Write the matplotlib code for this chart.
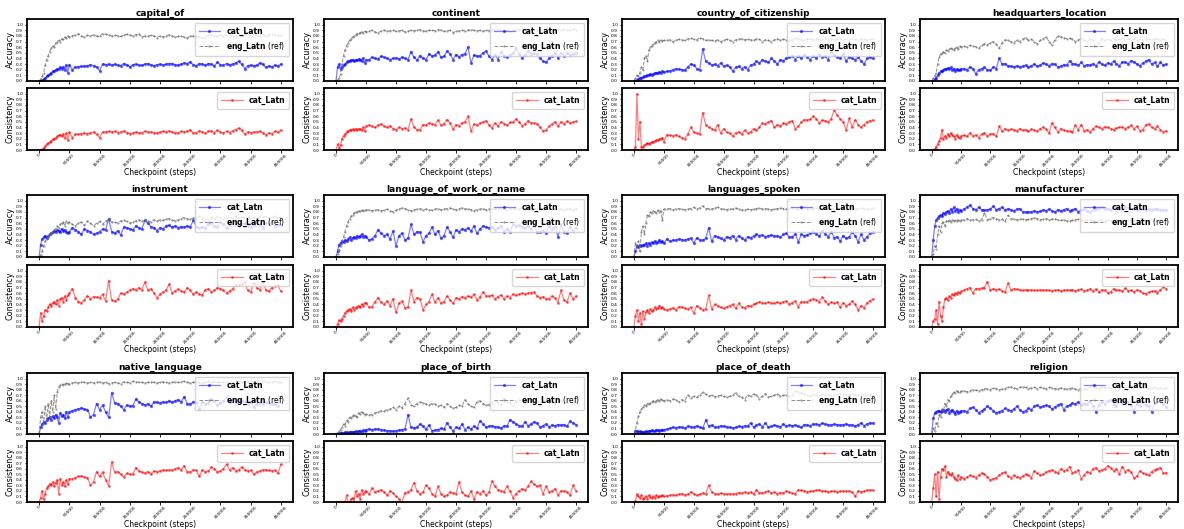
import numpy as np
import matplotlib
matplotlib.use("Agg")
import matplotlib.pyplot as plt

# checkpoint steps (dense early, then every 5000)
steps = [0, 2500, 5000, 7500, 10000, 12500, 15000, 17500, 20000, 22500, 25000,
         27500, 30000, 32500, 35000, 37500, 40000, 42500, 45000, 47500, 50000,
         55000, 60000, 65000, 70000, 75000, 80000, 85000,
         90000, 95000, 100000, 105000, 110000, 115000, 120000,
         125000, 130000, 135000, 140000, 145000, 150000, 155000,
         160000, 165000, 170000, 175000, 180000, 185000, 190000,
         195000, 200000, 205000, 210000, 215000, 220000, 225000,
         230000, 235000, 240000, 245000, 250000, 255000, 260000,
         265000, 270000, 275000, 280000, 285000, 290000, 295000,
         300000, 305000, 310000, 315000, 320000, 325000, 330000,
         335000, 340000, 345000, 350000, 355000, 360000, 365000,
         370000, 375000, 380000, 385000, 390000, 395000, 400000]

relations = ["capital_of", "continent", "country_of_citizenship", "headquarters_location",
             "instrument", "language_of_work_or_name", "languages_spoken", "manufacturer",
             "native_language", "place_of_birth", "place_of_death", "religion"]

# values in percent
capital_of_cat = [0, 0, 1, 3, 5, 8, 10, 12, 14, 17, 18, 20, 21, 22, 24, 22, 25, 20, 28, 15, 29,
                  20, 25, 25, 26, 26, 27, 29, 27, 25, 18, 30, 29, 30, 28, 30, 28, 27, 31, 29, 25, 29,
                  30, 28, 28, 30, 31, 29, 27, 29, 30, 28, 30, 31, 31, 29, 28, 30, 32, 31, 34, 29, 27,
                  31, 30, 28, 31, 30, 27, 33, 29, 28, 31, 29, 30, 32, 35, 30, 22, 27, 28, 27, 28, 32,
                  30, 24, 27, 25, 28, 26, 30]
capital_of_eng = [0, 3, 8, 15, 28, 38, 45, 52, 58, 62, 60, 68, 70, 72, 70, 75, 74, 78, 76, 80, 78,
                  80, 82, 84, 80, 78, 81, 80, 82, 80, 79, 84, 83, 82, 80, 81, 80, 79, 82, 83, 82, 80,
                  82, 84, 78, 80, 79, 81, 80, 77, 80, 78, 80, 82, 80, 78, 79, 80, 78, 76, 80, 79, 80,
                  78, 76, 77, 82, 81, 80, 79, 82, 80, 81, 83, 80, 79, 82, 80, 81, 83, 80, 82, 81, 80,
                  82, 80, 81, 83, 82, 80, 81]
capital_of_cons = [0, 0, 1, 3, 7, 10, 12, 14, 16, 19, 20, 22, 24, 26, 27, 25, 28, 22, 30, 18, 32,
                   22, 28, 28, 29, 30, 29, 30, 32, 28, 22, 32, 32, 33, 32, 33, 31, 32, 34, 31, 29, 30,
                   32, 30, 31, 33, 32, 32, 31, 30, 32, 33, 32, 34, 32, 31, 30, 33, 32, 33, 36, 30, 31,
                   34, 32, 30, 33, 34, 31, 35, 32, 30, 33, 31, 34, 36, 39, 35, 28, 32, 31, 32, 32, 33,
                   31, 27, 30, 29, 33, 32, 35]

continent_cat = [0, 25, 30, 22, 25, 28, 30, 33, 35, 36, 37, 38, 36, 38, 37, 39, 38, 36, 40, 32, 37,
                 38, 42, 40, 39, 44, 42, 40, 38, 40, 41, 39, 42, 40, 38, 52, 42, 37, 45, 40, 38, 48,
                 44, 46, 52, 42, 44, 53, 48, 38, 47, 43, 47, 48, 60, 32, 46, 44, 45, 50, 53, 44, 38,
                 47, 38, 52, 45, 42, 47, 49, 58, 48, 41, 46, 53, 48, 49, 48, 40, 35, 33, 40, 45, 50,
                 41, 49, 45, 50, 47, 48, 49]
continent_eng = [0, 2, 5, 12, 30, 45, 55, 62, 68, 72, 75, 78, 80, 82, 84, 85, 86, 87, 86, 88, 87,
                 88, 90, 87, 85, 89, 90, 88, 89, 90, 88, 89, 90, 87, 88, 90, 89, 90, 91, 89, 88, 90,
                 90, 89, 91, 90, 88, 89, 90, 86, 88, 89, 90, 89, 90, 91, 90, 89, 90, 88, 90, 89, 91,
                 90, 91, 90, 89, 90, 88, 90, 90, 91, 92, 90, 89, 91, 90, 90, 91, 90, 92, 91, 90, 91,
                 91, 90, 92, 91, 90, 92, 91]
continent_cons = [0, 10, 3, 8, 20, 25, 28, 32, 34, 35, 36, 37, 35, 38, 36, 38, 37, 35, 40, 33, 42,
                  44, 42, 40, 44, 46, 42, 40, 43, 38, 36, 40, 38, 39, 36, 55, 40, 36, 36, 45, 44, 48,
                  46, 45, 53, 44, 47, 54, 48, 37, 45, 43, 48, 50, 60, 34, 46, 44, 48, 50, 52, 44, 39,
                  48, 42, 50, 47, 44, 49, 49, 55, 50, 43, 46, 52, 48, 48, 47, 40, 34, 35, 42, 46, 50,
                  42, 50, 46, 51, 48, 50, 51]

citizenship_cat = [0, 0, 2, 3, 5, 6, 7, 8, 9, 10, 10, 12, 11, 13, 14, 15, 14, 16, 15, 17, 16,
                   17, 18, 20, 22, 21, 20, 19, 25, 30, 28, 22, 20, 57, 35, 32, 28, 30, 27, 32, 26, 28,
                   25, 18, 24, 26, 22, 25, 20, 28, 30, 35, 32, 38, 35, 33, 40, 35, 30, 38, 36, 40, 42,
                   45, 38, 44, 40, 46, 42, 38, 45, 40, 47, 42, 44, 38, 52, 46, 43, 40, 48, 35, 43, 40,
                   38, 42, 36, 30, 40, 42, 40]
citizenship_eng = [0, 5, 10, 8, 15, 25, 20, 40, 45, 35, 55, 60, 62, 65, 68, 70, 72, 70, 73, 71, 72,
                   72, 73, 70, 72, 74, 73, 72, 75, 76, 74, 73, 77, 75, 72, 73, 72, 71, 73, 70, 72, 74,
                   72, 70, 73, 74, 75, 73, 74, 73, 72, 75, 74, 70, 73, 72, 70, 73, 75, 72, 74, 73, 71,
                   72, 76, 75, 73, 72, 74, 75, 73, 75, 74, 73, 76, 72, 74, 73, 74, 75, 72, 74, 73, 75,
                   74, 73, 75, 74, 73, 74, 75]
citizenship_cons = [0, 5, 100, 20, 50, 5, 6, 8, 10, 12, 11, 13, 14, 15, 16, 18, 17, 19, 20, 22, 15,
                    27, 26, 25, 27, 24, 22, 20, 28, 40, 32, 30, 28, 66, 45, 40, 38, 35, 45, 30, 38, 32,
                    30, 25, 30, 32, 28, 35, 30, 32, 38, 35, 40, 48, 46, 50, 52, 40, 45, 42, 48, 46, 50,
                    52, 38, 42, 50, 54, 53, 55, 60, 55, 48, 53, 52, 50, 55, 71, 62, 55, 50, 35, 56, 40,
                    54, 45, 40, 45, 50, 52, 53]

headquarters_cat = [0, 0, 3, 6, 10, 14, 17, 18, 20, 22, 21, 23, 22, 24, 20, 22, 18, 21, 19, 20, 22,
                    22, 20, 25, 22, 13, 20, 22, 24, 20, 19, 25, 22, 40, 30, 31, 27, 26, 25, 27, 25, 26,
                    28, 24, 27, 30, 26, 28, 32, 30, 27, 31, 30, 25, 26, 29, 28, 36, 31, 30, 28, 33, 27,
                    29, 28, 31, 27, 34, 30, 28, 32, 30, 35, 31, 27, 34, 33, 31, 36, 34, 30, 27, 32, 35,
                    38, 30, 33, 26, 33, 28, 30]
headquarters_eng = [0, 5, 8, 15, 30, 42, 48, 50, 52, 50, 55, 54, 56, 58, 57, 55, 58, 60, 56, 62, 60,
                    62, 60, 63, 62, 61, 58, 63, 66, 64, 68, 70, 65, 58, 68, 73, 72, 70, 68, 72, 70, 74,
                    77, 72, 74, 70, 66, 72, 75, 78, 70, 64, 72, 80, 78, 77, 75, 76, 74, 70, 73, 76, 72,
                    70, 74, 73, 62, 68, 75, 72, 74, 72, 75, 73, 74, 76, 72, 74, 73, 75, 72, 74, 73, 75,
                    74, 73, 75, 74, 72, 74, 73]
headquarters_cons = [0, 0, 2, 6, 10, 16, 22, 36, 20, 25, 22, 28, 24, 30, 26, 24, 20, 27, 23, 21, 25,
                     26, 24, 30, 25, 27, 22, 28, 30, 25, 28, 29, 24, 42, 33, 38, 35, 37, 36, 34, 38, 35,
                     36, 33, 37, 35, 34, 38, 40, 37, 30, 48, 40, 32, 38, 35, 34, 33, 32, 44, 36, 45, 34,
                     36, 32, 38, 42, 40, 38, 41, 40, 38, 36, 39, 40, 41, 38, 40, 44, 38, 42, 34, 36, 45,
                     46, 40, 38, 42, 36, 32, 34]

instrument_cat = [0, 22, 32, 35, 38, 34, 37, 40, 42, 44, 46, 45, 48, 47, 45, 50, 46, 48, 44, 42, 45,
                  52, 48, 45, 40, 50, 47, 45, 40, 42, 45, 50, 48, 68, 45, 42, 47, 39, 53, 52, 50, 48,
                  55, 52, 50, 65, 60, 54, 52, 47, 52, 50, 55, 56, 53, 55, 52, 54, 53, 55, 53, 65, 54,
                  52, 53, 52, 58, 60, 55, 54, 62, 58, 52, 56, 62, 57, 55, 58, 60, 55, 53, 57, 62, 56,
                  52, 60, 58, 62, 55, 57, 56]
instrument_eng = [0, 3, 10, 20, 28, 32, 35, 40, 42, 45, 48, 50, 55, 52, 58, 60, 62, 55, 63, 60, 62,
                  58, 55, 60, 62, 56, 64, 60, 55, 60, 63, 58, 64, 66, 62, 62, 60, 64, 65, 63, 60, 62,
                  64, 66, 63, 65, 64, 62, 66, 64, 66, 65, 67, 68, 66, 64, 66, 68, 70, 68, 67, 69, 70,
                  72, 68, 65, 67, 70, 68, 72, 70, 68, 71, 69, 70, 72, 70, 71, 70, 72, 69, 71, 70, 72,
                  71, 72, 70, 71, 72, 70, 71]
instrument_cons = [0, 25, 10, 20, 30, 28, 35, 40, 38, 42, 45, 40, 48, 38, 50, 52, 45, 55, 48, 56, 60,
                   68, 52, 45, 43, 48, 55, 50, 54, 53, 52, 58, 46, 82, 48, 46, 49, 60, 58, 62, 65, 68,
                   66, 70, 66, 80, 65, 68, 60, 52, 58, 62, 65, 76, 60, 64, 67, 64, 62, 70, 65, 58, 62,
                   58, 57, 66, 68, 62, 65, 70, 68, 65, 60, 64, 68, 75, 74, 76, 80, 65, 62, 78, 70, 66,
                   80, 66, 63, 70, 73, 74, 63]

work_name_cat = [0, 10, 22, 25, 28, 26, 30, 28, 32, 35, 30, 33, 36, 34, 38, 35, 37, 40, 36, 38, 36,
                 30, 32, 38, 48, 42, 38, 40, 32, 46, 20, 38, 42, 30, 33, 58, 40, 45, 44, 27, 38, 42,
                 53, 40, 47, 33, 38, 53, 45, 35, 48, 45, 50, 48, 52, 46, 55, 42, 50, 55, 53, 52, 53,
                 48, 52, 55, 45, 50, 45, 58, 55, 56, 53, 52, 55, 50, 56, 45, 44, 46, 42, 55, 50, 54,
                 36, 58, 45, 42, 53, 47, 52]
work_name_eng = [0, 5, 12, 20, 28, 35, 45, 55, 62, 68, 72, 75, 78, 80, 79, 82, 81, 83, 82, 84, 83,
                 84, 82, 83, 84, 82, 83, 85, 82, 80, 83, 85, 87, 86, 84, 82, 84, 85, 86, 84, 85, 84,
                 83, 85, 86, 84, 85, 86, 87, 85, 84, 86, 87, 85, 86, 84, 82, 84, 85, 86, 84, 85, 86,
                 85, 87, 86, 85, 84, 86, 85, 86, 85, 87, 86, 85, 84, 86, 85, 86, 84, 85, 86, 85, 84,
                 86, 85, 84, 86, 85, 84, 85]
work_name_cons = [0, 5, 12, 10, 15, 20, 25, 28, 30, 32, 28, 35, 30, 34, 36, 38, 35, 40, 38, 42, 43,
                  35, 36, 45, 52, 44, 40, 46, 38, 50, 26, 42, 46, 34, 35, 65, 45, 52, 50, 30, 40, 45,
                  58, 44, 52, 42, 45, 55, 48, 42, 52, 50, 54, 52, 55, 53, 58, 48, 54, 62, 55, 55, 56,
                  50, 54, 57, 50, 55, 52, 58, 56, 58, 60, 58, 60, 61, 62, 55, 52, 54, 50, 50, 55, 52,
                  43, 65, 48, 44, 60, 50, 55]

spoken_cat = [0, 10, 20, 18, 22, 20, 21, 22, 24, 20, 25, 22, 26, 24, 28, 25, 27, 30, 26, 28, 24,
              32, 28, 30, 30, 32, 31, 30, 32, 33, 25, 34, 30, 30, 33, 52, 28, 38, 35, 33, 30, 36,
              34, 38, 31, 38, 33, 30, 36, 34, 37, 40, 38, 39, 36, 38, 39, 37, 38, 35, 40, 42, 35,
              36, 41, 27, 40, 38, 39, 42, 44, 41, 37, 46, 41, 36, 45, 34, 36, 28, 38, 33, 35, 44,
              38, 27, 40, 30, 36, 42, 45]
spoken_eng = [0, 25, 20, 28, 10, 45, 55, 40, 60, 75, 72, 80, 78, 82, 80, 78, 83, 80, 82, 65, 85,
              85, 86, 84, 85, 86, 85, 84, 85, 86, 88, 85, 87, 91, 86, 86, 85, 87, 88, 86, 85, 84,
              86, 85, 87, 85, 83, 84, 85, 84, 85, 86, 87, 85, 86, 85, 84, 85, 86, 87, 86, 85, 86,
              87, 86, 85, 86, 87, 85, 86, 86, 87, 85, 86, 87, 86, 85, 86, 85, 87, 86, 85, 86, 87,
              85, 86, 87, 86, 85, 86, 87]
spoken_cons = [0, 20, 30, 10, 25, 5, 28, 15, 26, 30, 25, 32, 28, 30, 35, 32, 34, 38, 33, 35, 32,
               30, 32, 34, 30, 36, 35, 33, 32, 35, 25, 38, 34, 30, 32, 56, 32, 40, 38, 35, 33, 36,
               38, 40, 33, 42, 36, 34, 38, 37, 40, 42, 45, 43, 42, 44, 43, 42, 44, 42, 45, 46, 40,
               43, 46, 36, 45, 44, 45, 48, 50, 48, 45, 53, 46, 40, 44, 42, 44, 35, 43, 38, 40, 46,
               40, 30, 38, 34, 43, 47, 49]

manufacturer_cat = [0, 30, 55, 65, 70, 72, 75, 73, 78, 76, 80, 82, 78, 85, 80, 88, 82, 86, 80, 84, 82,
                    85, 88, 92, 86, 84, 88, 84, 83, 84, 85, 90, 84, 86, 88, 83, 86, 84, 82, 85, 86, 80,
                    80, 80, 80, 82, 80, 81, 84, 82, 85, 82, 80, 84, 82, 84, 86, 82, 84, 86, 80, 83, 85,
                    82, 80, 84, 86, 87, 88, 85, 86, 84, 88, 85, 86, 84, 88, 87, 85, 86, 84, 85, 86, 84,
                    85, 84, 86, 85, 84, 83, 84]
manufacturer_eng = [0, 5, 20, 15, 40, 55, 45, 60, 62, 55, 64, 63, 65, 62, 66, 64, 65, 63, 66, 64, 65,
                    66, 68, 65, 66, 67, 64, 66, 78, 66, 68, 70, 68, 66, 67, 63, 74, 68, 67, 66, 68, 67,
                    66, 67, 68, 70, 68, 66, 67, 68, 66, 67, 68, 66, 65, 66, 64, 64, 65, 66, 67, 65, 64,
                    66, 65, 64, 63, 65, 66, 64, 65, 64, 66, 65, 64, 66, 65, 65, 66, 64, 65, 66, 65, 64,
                    65, 66, 65, 64, 65, 66, 65]
manufacturer_cons = [0, 10, 15, 30, 5, 45, 20, 10, 35, 50, 52, 48, 55, 52, 58, 56, 60, 58, 62, 60, 63,
                     65, 68, 70, 60, 68, 68, 69, 70, 80, 65, 68, 66, 67, 64, 62, 78, 66, 68, 67, 66, 65,
                     66, 65, 66, 65, 65, 66, 65, 66, 65, 64, 65, 66, 64, 65, 66, 65, 66, 64, 66, 67, 64,
                     65, 68, 64, 67, 62, 66, 65, 60, 62, 68, 65, 66, 63, 69, 64, 65, 62, 66, 64, 60, 59,
                     62, 63, 64, 61, 66, 71, 68]

native_cat = [0, 12, 18, 22, 20, 25, 28, 30, 25, 32, 28, 35, 30, 20, 38, 32, 35, 28, 40, 30, 40,
              42, 44, 45, 47, 45, 44, 30, 35, 55, 44, 52, 40, 30, 74, 56, 55, 50, 44, 52, 50, 51,
              63, 58, 55, 52, 55, 50, 58, 57, 56, 58, 57, 60, 57, 60, 62, 58, 67, 55, 54, 58, 57,
              45, 58, 54, 56, 64, 60, 52, 56, 60, 66, 58, 60, 56, 59, 60, 58, 55, 57, 48, 54, 56,
              55, 58, 56, 55, 54, 50, 68]
native_eng = [0, 30, 40, 20, 50, 25, 55, 30, 60, 40, 70, 45, 75, 85, 88, 90, 89, 90, 92, 91, 90,
              92, 93, 92, 94, 93, 92, 93, 92, 93, 94, 92, 93, 91, 92, 93, 92, 91, 94, 93, 92, 95,
              93, 94, 93, 92, 93, 94, 93, 92, 93, 94, 93, 92, 93, 94, 93, 94, 95, 93, 92, 93, 94,
              93, 92, 94, 95, 93, 94, 93, 94, 93, 92, 94, 93, 94, 95, 94, 93, 94, 95, 94, 93, 94,
              95, 94, 93, 94, 95, 94, 93]
native_cons = [0, 8, 20, 5, 15, 25, 28, 33, 30, 36, 28, 35, 40, 15, 42, 30, 36, 28, 40, 32, 42,
               42, 44, 46, 47, 45, 44, 30, 36, 55, 46, 54, 40, 29, 72, 54, 55, 50, 45, 52, 50, 50,
               62, 56, 54, 52, 55, 50, 56, 55, 56, 58, 57, 58, 57, 60, 62, 58, 65, 55, 54, 58, 57,
               46, 58, 54, 56, 63, 60, 54, 56, 60, 68, 58, 62, 56, 58, 63, 58, 56, 57, 50, 54, 56,
               58, 58, 57, 56, 57, 52, 68]

birth_cat = [0, 0, 1, 1, 2, 2, 3, 3, 2, 4, 3, 4, 3, 5, 4, 6, 5, 4, 7, 6, 8,
             9, 8, 9, 9, 8, 7, 6, 6, 5, 6, 7, 8, 9, 35, 12, 11, 12, 18, 14, 9, 16,
             6, 7, 8, 10, 9, 20, 12, 6, 12, 10, 18, 8, 12, 9, 14, 10, 24, 18, 12, 14, 15,
             13, 13, 10, 15, 14, 26, 22, 18, 15, 14, 22, 15, 18, 22, 20, 12, 15, 18, 13, 16, 15,
             17, 16, 17, 14, 23, 20, 17]
birth_eng = [0, 2, 5, 8, 12, 18, 15, 25, 22, 30, 28, 32, 35, 33, 30, 38, 36, 40, 38, 35, 36,
             34, 35, 38, 40, 42, 41, 44, 45, 48, 44, 50, 47, 55, 65, 52, 50, 55, 58, 56, 54, 52,
             55, 54, 50, 52, 48, 55, 50, 46, 48, 52, 50, 62, 55, 50, 48, 58, 60, 55, 52, 53, 56,
             60, 56, 52, 65, 58, 56, 50, 58, 62, 60, 55, 63, 58, 54, 60, 56, 58, 62, 55, 58, 54,
             58, 60, 56, 58, 62, 57, 60]
birth_cons = [0, 0, 0, 0, 0, 0, 0, 12, 0, 0, 5, 8, 0, 20, 10, 15, 5, 22, 15, 18, 20,
              14, 25, 18, 20, 22, 18, 12, 20, 16, 10, 5, 0, 17, 18, 22, 35, 20, 14, 18, 30, 25,
              15, 10, 28, 15, 10, 12, 18, 16, 15, 36, 18, 12, 10, 20, 5, 18, 15, 20, 12, 18, 38,
              28, 22, 20, 18, 28, 20, 8, 15, 20, 24, 22, 28, 37, 32, 28, 30, 15, 28, 18, 20, 24,
              13, 20, 20, 18, 12, 30, 20]

death_cat = [0, 5, 6, 4, 5, 3, 4, 3, 5, 4, 6, 5, 7, 6, 5, 8, 7, 6, 8, 7, 8,
             9, 10, 12, 11, 13, 12, 10, 14, 13, 12, 15, 12, 10, 25, 14, 16, 12, 13, 15, 14, 13,
             12, 11, 12, 14, 13, 15, 14, 20, 12, 16, 18, 13, 20, 12, 14, 16, 15, 13, 18, 14, 16,
             15, 16, 14, 12, 17, 16, 15, 18, 18, 17, 19, 18, 17, 16, 18, 17, 16, 17, 18, 16, 17,
             14, 17, 20, 15, 18, 20, 20]
death_eng = [0, 8, 20, 32, 40, 45, 48, 52, 50, 55, 54, 56, 58, 60, 57, 60, 62, 59, 63, 61, 60,
             62, 60, 63, 62, 58, 62, 60, 70, 65, 68, 66, 70, 75, 72, 68, 70, 67, 69, 70, 68, 66,
             68, 70, 74, 68, 66, 62, 70, 68, 72, 70, 64, 68, 73, 67, 68, 70, 72, 68, 70, 70, 68,
             70, 77, 76, 74, 72, 70, 68, 72, 70, 68, 72, 70, 71, 69, 70, 71, 72, 70, 71, 70, 72,
             71, 70, 72, 71, 70, 72, 71]
death_cons = [0, 2, 14, 10, 8, 12, 5, 8, 10, 6, 12, 9, 7, 10, 8, 12, 9, 11, 10, 12, 10,
              11, 12, 13, 12, 14, 15, 13, 14, 18, 15, 12, 14, 16, 14, 30, 18, 15, 14, 16, 15, 14,
              15, 14, 15, 17, 16, 18, 16, 18, 14, 22, 16, 17, 18, 20, 16, 18, 15, 17, 16, 20, 18,
              16, 15, 22, 21, 20, 18, 19, 20, 21, 22, 19, 20, 18, 19, 20, 18, 19, 20, 19, 20, 18,
              10, 20, 18, 19, 21, 22, 21]

religion_cat = [0, 28, 38, 40, 42, 41, 40, 42, 44, 40, 43, 45, 38, 42, 44, 40, 36, 42, 38, 40, 42,
                42, 40, 46, 48, 44, 38, 42, 45, 50, 46, 42, 38, 40, 42, 46, 44, 42, 45, 50, 44, 40,
                42, 46, 44, 50, 52, 48, 50, 52, 50, 45, 48, 52, 55, 44, 50, 52, 56, 54, 58, 52, 55,
                54, 60, 50, 40, 52, 58, 55, 60, 62, 55, 50, 58, 56, 60, 58, 52, 40, 55, 50, 58, 52,
                50, 40, 56, 58, 60, 55, 48]
religion_eng = [0, 10, 5, 20, 15, 35, 30, 45, 42, 55, 50, 62, 60, 68, 72, 75, 74, 78, 76, 75, 77,
                78, 76, 78, 80, 79, 78, 80, 82, 81, 80, 83, 82, 80, 81, 82, 84, 85, 83, 82, 84, 85,
                84, 82, 83, 84, 82, 84, 83, 82, 84, 83, 82, 81, 83, 82, 81, 82, 83, 81, 80, 82, 81,
                82, 84, 85, 83, 82, 84, 83, 84, 82, 83, 84, 82, 84, 83, 84, 82, 83, 84, 82, 84, 83,
                82, 83, 84, 82, 83, 82, 83]
religion_cons = [0, 25, 50, 10, 55, 5, 45, 60, 58, 65, 45, 55, 50, 48, 52, 45, 42, 40, 48, 42, 45,
                 42, 45, 48, 46, 44, 48, 52, 50, 45, 40, 42, 44, 48, 52, 54, 46, 44, 48, 45, 44, 46,
                 50, 48, 44, 56, 52, 48, 50, 54, 56, 58, 55, 52, 60, 56, 58, 64, 52, 55, 57, 42, 48,
                 55, 52, 60, 62, 56, 58, 60, 65, 62, 56, 60, 50, 64, 55, 58, 54, 43, 47, 56, 52, 50,
                 48, 55, 58, 60, 62, 52, 53]

cat_acc = [capital_of_cat, continent_cat, citizenship_cat, headquarters_cat,
           instrument_cat, work_name_cat, spoken_cat, manufacturer_cat,
           native_cat, birth_cat, death_cat, religion_cat]
eng_acc = [capital_of_eng, continent_eng, citizenship_eng, headquarters_eng,
           instrument_eng, work_name_eng, spoken_eng, manufacturer_eng,
           native_eng, birth_eng, death_eng, religion_eng]
cat_cons = [capital_of_cons, continent_cons, citizenship_cons, headquarters_cons,
            instrument_cons, work_name_cons, spoken_cons, manufacturer_cons,
            native_cons, birth_cons, death_cons, religion_cons]

W, H = 1184, 529
fig = plt.figure(figsize=(W / 100, H / 100), dpi=100)

col_left = [27, 324, 622, 920]
col_width = [266, 264, 263, 258]
acc_rows = [(19, 81), (195, 257), (373, 434)]
cons_rows = [(88, 150), (265, 327), (441, 502)]

yticks = np.round(np.arange(0, 1.01, 0.1), 1)
xticks = np.arange(0, 400001, 50000)


def px_axes(left, top, width, bottom):
    return fig.add_axes([left / W, 1 - bottom / H, width / W, (bottom - top) / H])


def style(ax):
    ax.set_ylim(0, 1.1)
    ax.set_yticks(yticks)
    ax.set_yticklabels([f"{t:.1f}" for t in yticks], fontsize=3.2)
    ax.set_xticks(xticks)
    ax.tick_params(length=1.8, width=0.6, pad=1)
    for s in ax.spines.values():
        s.set_linewidth(1.3)


x = np.array(steps)
for i, rel in enumerate(relations):
    r, c = divmod(i, 4)
    ax1 = px_axes(col_left[c], acc_rows[r][0], col_width[c], acc_rows[r][1])
    ax2 = px_axes(col_left[c], cons_rows[r][0], col_width[c], cons_rows[r][1])

    ax1.plot(x, np.array(cat_acc[i]) / 100, color="blue", alpha=0.5, lw=0.9,
             marker="o", ms=1.4, label="cat_Latn")
    ax1.plot(x, np.array(eng_acc[i]) / 100, color="dimgray", alpha=0.75, lw=0.7,
             ls="--", marker=".", ms=1.0, label=r"$\bf{eng\_Latn}$ (ref)")
    ax2.plot(x, np.array(cat_cons[i]) / 100, color="red", alpha=0.5, lw=0.9,
             marker="o", ms=1.1, label="cat_Latn")

    style(ax1)
    style(ax2)
    xlim = ax2.get_xlim()
    ax1.set_xlim(xlim)
    ax1.set_xticklabels([])
    ax2.set_xticklabels([str(t) for t in xticks], fontsize=3.2, rotation=45)
    ax2.tick_params(axis="x", pad=0.3)

    ax1.set_title(rel, fontsize=6.5, fontweight="bold", pad=2.5)
    ax1.set_ylabel("Accuracy", fontsize=5.8, labelpad=1)
    ax2.set_ylabel("Consistency", fontsize=5.8, labelpad=1)
    ax2.set_xlabel("Checkpoint (steps)", fontsize=5.5, labelpad=0)

    leg1 = ax1.legend(loc="upper right", prop={"size": 5.5, "weight": "bold"},
                      handlelength=2.8, borderpad=0.5, labelspacing=0.6)
    leg2 = ax2.legend(loc="upper right", prop={"size": 5.5, "weight": "bold"},
                      handlelength=2.8, borderpad=0.5)
    # only the env name is bold in the ref label
    leg1.get_texts()[1].set_fontweight("normal")

fig.savefig("out.png", dpi=100)
